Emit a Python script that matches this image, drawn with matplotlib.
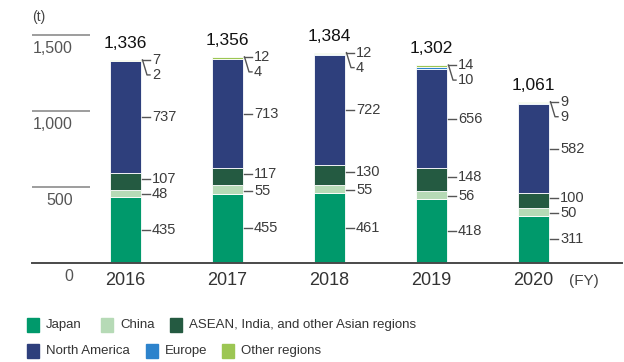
import matplotlib.pyplot as plt
from matplotlib.patches import Rectangle

plt.rcParams['font.family'] = ['Liberation Sans', 'DejaVu Sans']

years = ['2016', '2017', '2018', '2019', '2020']
japan = [435, 455, 461, 418, 311]
china = [48, 55, 55, 56, 50]
asean = [107, 117, 130, 148, 100]
north_america = [737, 713, 722, 656, 582]
europe = [2, 4, 4, 10, 9]
other = [7, 12, 12, 14, 9]
totals = [1336, 1356, 1384, 1302, 1061]
y_ticks = [0, 500, 1000, 1500]
y_tick_labels = ['0', '500', '1,000', '1,500']

series = [
    ('Japan', japan, '#00996b'),
    ('China', china, '#b6dab6'),
    ('ASEAN, India, and other Asian regions', asean, '#245a41'),
    ('North America', north_america, '#2e3f7c'),
    ('Europe', europe, '#2d83cc'),
    ('Other regions', other, '#9cc653'),
]

W, H = 624, 362
fig = plt.figure(figsize=(W / 100, H / 100), dpi=100)
ax = fig.add_axes([0, 0, 1, 1])

# pixel layout: zero line at y=263, 1,500 at y=35, bars every 102 px starting at 125.5
px_per_unit = 228 / 1500
y_bottom = -(H - 263) / px_per_unit
y_top = 1500 + 35 / px_per_unit
x_step = 102
x0 = 125.5
ax.set_xlim(-x0 / x_step, (W - x0) / x_step)
ax.set_ylim(y_bottom, y_top)
ax.axis('off')

def px_x(p):
    return (p - x0) / x_step

def px_dy(p):
    return p / px_per_unit

bar_w = 31 / x_step
xs = list(range(len(years)))

bottoms = [0] * len(years)
for name, vals, col in series:
    ax.bar(xs, vals, bar_w, bottom=bottoms, color=col, edgecolor='white', linewidth=0.6, zorder=2)
    bottoms = [b + v for b, v in zip(bottoms, vals)]

# grid stubs and y labels on the left
for t, lab in zip(y_ticks, y_tick_labels):
    if t > 0:
        ax.plot([px_x(32), px_x(90)], [t, t], color='#8c8c8c', lw=1.2, solid_capstyle='butt')
    ax.text(px_x(73), t - px_dy(13.5), lab, ha='right', va='center', fontsize=11.5, color='#555555')
ax.plot([px_x(32), px_x(622)], [0, 0], color='#4a4a4a', lw=1.4, zorder=3)
ax.text(px_x(32), 1500 + px_dy(18), '(t)', ha='left', va='center', fontsize=10, color='#444444')

lab_col = '#3c3c3c'
lead_col = '#555555'
# small vertical nudges (px) so crowded labels stay apart
nudge = [0, -1, 2.5, 0]
for i in xs:
    right = i + bar_w / 2
    l0 = right + 1.5 / x_step
    l1 = right + 9 / x_step
    tx = right + 11 / x_step
    # lower four segments: straight leaders at segment middles
    base = 0
    for k, (name, vals, col) in enumerate(series[:4]):
        mid = base + vals[i] / 2 + px_dy(nudge[k])
        ax.plot([l0, l1], [mid, mid], color=lead_col, lw=1)
        ax.text(tx, mid, f'{vals[i]:,}', ha='left', va='center', fontsize=10.5, color=lab_col)
        base += vals[i]
    # top two thin segments
    top = totals[i]
    ax.plot([l0, l1], [top, top], color=lead_col, lw=1)
    ax.text(tx, top, f'{other[i]}', ha='left', va='center', fontsize=10.5, color=lab_col)
    low = top - px_dy(15)
    ax.plot([l0, right + 6 / x_step, l1], [top, low, low], color=lead_col, lw=1)
    ax.text(tx, low, f'{europe[i]}', ha='left', va='center', fontsize=10.5, color=lab_col)
    # totals and years
    ax.text(i, top + px_dy(9), f'{totals[i]:,}', ha='center', va='bottom', fontsize=12.5, color='#111111')
    ax.text(i, -px_dy(17.5), years[i], ha='center', va='center', fontsize=13, color='#333333')

ax.text(px_x(584), -px_dy(17.5), '(FY)', ha='center', va='center', fontsize=11, color='#444444')

# legend drawn in pixel positions
legend_pos = [(27, 325), (101, 325), (170, 325), (27, 351), (146, 351), (222, 351)]
for (name, vals, col), (lx, ly) in zip(series, legend_pos):
    fig.patches.append(Rectangle((lx / W, 1 - (ly + 7) / H), 12 / W, 14 / H,
                                 transform=fig.transFigure, color=col))
    fig.text((lx + 19) / W, 1 - ly / H, name, ha='left', va='center', fontsize=9.5, color='#333333')

fig.savefig('out.png', dpi=100)
